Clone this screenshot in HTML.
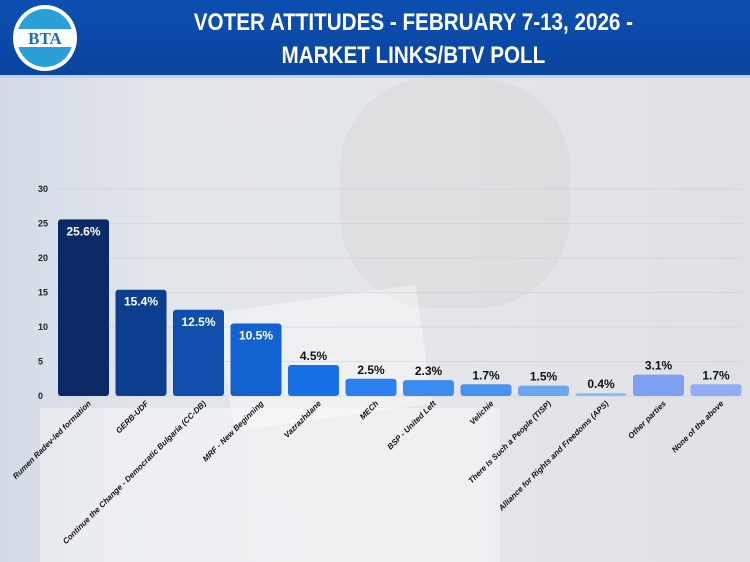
<!DOCTYPE html>
<html><head><meta charset="utf-8">
<style>
html,body{margin:0;padding:0;}
body{width:750px;height:562px;overflow:hidden;position:relative;font-family:"Liberation Sans",sans-serif;background:linear-gradient(90deg,#d3dbe6 0%,#e2e5ea 20%,#e4e6ea 60%,#dfe1e5 100%);}
#header{position:absolute;left:0;top:0;width:750px;height:75px;background:linear-gradient(180deg,#0c4fb0,#0a45a0);}
#band{position:absolute;left:0;top:75px;width:750px;height:3px;background:#bcd3ee;}
#title{position:absolute;left:60px;width:690px;top:6px;text-align:center;color:#fff;font-family:"Liberation Sans",sans-serif;font-weight:bold;font-size:24px;line-height:33px;transform:scaleX(0.86);transform-origin:405px 0;}
svg{position:absolute;left:0;top:0;}
</style></head><body>
<div id="bg" style="position:absolute;left:0;top:78px;width:750px;height:484px;">
 <div style="position:absolute;left:340px;top:0;width:230px;height:230px;border-radius:40%;background:rgba(190,170,165,0.12);"></div>
 <div style="position:absolute;left:225px;top:220px;width:200px;height:120px;background:rgba(255,255,255,0.4);transform:rotate(-8deg);"></div>
 <div style="position:absolute;left:40px;top:330px;width:460px;height:154px;background:rgba(255,255,255,0.4);"></div>
</div>
<div id="header"></div>
<div id="band"></div>
<svg width="90" height="78" style="left:0;top:0;">
 <ellipse cx="45" cy="38" rx="32" ry="33" fill="#fff"/>
 <ellipse cx="45" cy="38" rx="28" ry="29" fill="#2a9fd8"/>
 <rect x="14" y="29" width="62" height="18" fill="#fff"/>
 <text x="45" y="44" text-anchor="middle" font-family="Liberation Serif" font-weight="bold" font-size="17" fill="#1b6fb8">BTA</text>
</svg>
<div id="title">VOTER ATTITUDES - FEBRUARY 7-13, 2026 -<br>MARKET LINKS/BTV POLL</div>
<svg id="chart" width="750" height="562"></svg>
<script>
const categories=["Rumen Radev-led formation","GERB-UDF","Continue the Change - Democratic Bulgaria (CC-DB)","MRF - New Beginning","Vazrazhdane","MECh","BSP - United Left","Velichie","There Is Such a People (TISP)","Alliance for Rights and Freedoms (APS)","Other parties","None of the above"];
const values=[25.6,15.4,12.5,10.5,4.5,2.5,2.3,1.7,1.5,0.4,3.1,1.7];
const valueLabels=["25.6%","15.4%","12.5%","10.5%","4.5%","2.5%","2.3%","1.7%","1.5%","0.4%","3.1%","1.7%"];
const ticks=[0,5,10,15,20,25,30];
const colors=["#0a2b68","#0c3d8e","#0f4ead","#1262d0","#1870e6","#2a80ee","#3b8cf0","#4a92ee","#6ea5f0","#8db8f2","#7f9ff3","#92adf4"];
const svg=document.getElementById('chart');
const NS='http://www.w3.org/2000/svg';
const y0=396,pxPer=6.9,x0=58,step=57.5,bw=51;
const yS=v=>y0-v*pxPer;
const xS=i=>x0+i*step;
function mk(t,a){const e=document.createElementNS(NS,t);for(const k in a)e.setAttribute(k,a[k]);svg.appendChild(e);return e;}
ticks.forEach(t=>{
 const l=mk('line',{x1:55,x2:742,y1:yS(t),y2:yS(t),stroke:'#c9ccd2','stroke-width':0.6});
 
 
 const tx=mk('text',{x:38,y:yS(t)+3,'font-size':9,'font-weight':'bold',fill:'#222','text-anchor':'start'});
 tx.textContent=t;
 
 
});
values.forEach((v,i)=>{
 const x=xS(i),y=yS(v),h=y0-y;
 const r=mk('rect',{x:x,y:y,width:bw,height:Math.max(h,1.5),rx:3,fill:colors[i]});
 
 
 const inside=h>40;
 const t=mk('text',{x:x+bw/2,y:inside?y+16:y-5,'text-anchor':'middle','font-size':12,'font-weight':'bold',fill:inside?'#fff':'#111'});
 t.textContent=valueLabels[i];
 
 
 const cx=x+bw/2+8,cy=404;
 const c=mk('text',{x:cx,y:cy,'text-anchor':'end','font-size':8,'font-weight':'bold','font-style':'italic',fill:'#111',transform:`rotate(-45 ${cx} ${cy})`});
 c.textContent=categories[i];
 
 
});
</script>
</body></html>
